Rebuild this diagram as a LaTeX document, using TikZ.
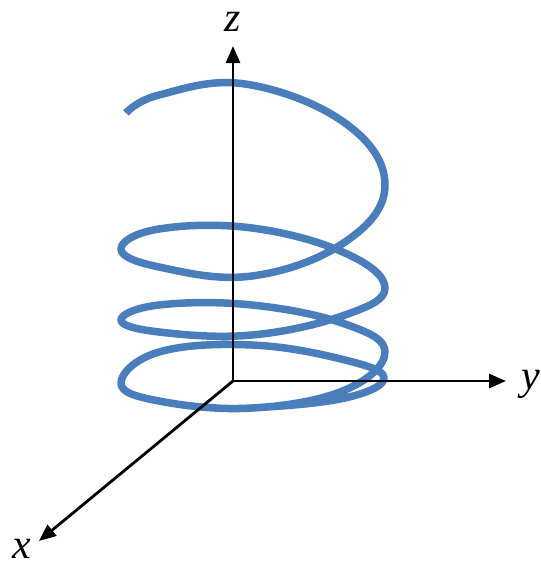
\documentclass[tikz,border=0pt]{standalone}
\usepackage{fontspec}
\newfontfamily\tnr{Liberation Serif}
\usetikzlibrary{arrows.meta}
\definecolor{helixblue}{RGB}{74,126,187}
\begin{document}
\begin{tikzpicture}[x=1pt,y=-1pt,
  axis/.style={line width=2.8pt, -{Triangle[length=17pt,width=14pt]}},
  helix/.style={line width=7.5pt, draw=helixblue, line join=round},
  lbl/.style={font=\tnr\itshape\fontsize{42}{42}\selectfont, inner sep=0pt}]
\useasboundingbox (0,0) rectangle (541,568);
\draw[helix] plot[smooth, tension=0.68] coordinates {
 (126,113) (159,95) (245,84) (345,123) (385,185) (345,242) (252,276) (159,267)
 (121,249) (159,229) (252,228) (345,253) (385,288) (345,315) (252,335) (159,332)
 (121,320) (159,305) (252,305) (345,324) (385,352) (345,390) (252,408) (159,401)
 (121,383) (159,352) (252,345) (345,360) (384,378) (345,398) (252,408) (205,407)};
\coordinate (O) at (233,381);
\coordinate (zt) at (233,46);
\coordinate (yt) at (506,381);
\coordinate (xt) at (39,541);
\draw[axis] (O) -- (zt);
\draw[axis] (O) -- (yt);
\draw[axis] (O) -- (xt);
\node[lbl] (zl) at (233,22) {z};
\node[lbl] (yl) at (531,384) {y};
\node[lbl] (xl) at (22,549) {x};
\end{tikzpicture}
\end{document}
